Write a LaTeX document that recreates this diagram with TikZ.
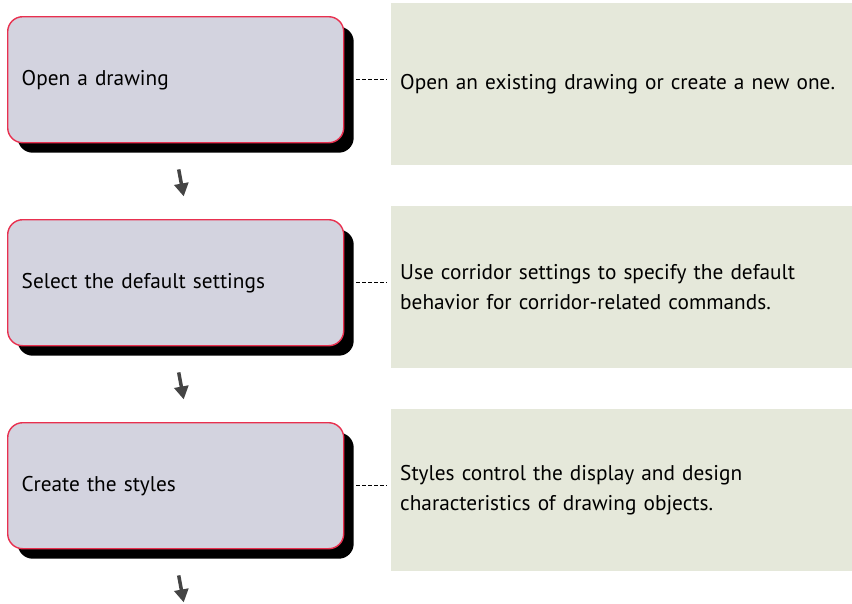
\documentclass[tikz,border=0pt]{standalone}
\usepackage{fontspec}
\setmainfont{PT Sans}
\usetikzlibrary{shadows,arrows.meta,calc}
\definecolor{boxfill}{HTML}{D3D3DF}
\definecolor{boxred}{HTML}{E8304F}
\definecolor{notefill}{HTML}{E5E8DA}
\definecolor{arrowgray}{HTML}{444444}
\tikzset{
  stepbox/.style={draw=boxred, fill=boxfill, rounded corners=15pt, line width=1.4pt,
    minimum width=336pt, minimum height=126pt, anchor=north west, inner xsep=14pt,
    text width=308pt, align=left, font=\fontsize{21.3}{30}\selectfont,
    drop shadow={shadow xshift=10pt, shadow yshift=-10pt, fill=black, opacity=1, draw=none}},
  notebox/.style={fill=notefill, draw=none, minimum width=461pt, minimum height=162pt,
    anchor=north west, inner xsep=9pt, text width=443pt, align=left,
    font=\fontsize{21.3}{30}\selectfont},
  conn/.style={draw=black, line width=1.3pt, dash pattern=on 4pt off 2pt},
  flowarrow/.style={draw=arrowgray, line width=3.5pt, -{Triangle[width=14pt,length=13pt]}}
}
\begin{document}
\begin{tikzpicture}[x=1pt,y=-1pt]
\useasboundingbox (0,0) rectangle (852,603);

\node[stepbox] (b1) at (7,16) {Open a drawing};
\node[stepbox] (b2) at (7,219) {Select the default settings};
\node[stepbox] (b3) at (7,422) {Create the styles};

\node[notebox] (g1) at (391,3) {Open an existing drawing or create a new one.};
\node[notebox] (g2) at (391,206) {Use corridor settings to specify the default\\behavior for corridor-related commands.};
\node[notebox] (g3) at (391,409) {Styles control the display and design\\characteristics of drawing objects.};

\foreach \i in {1,2,3}{
  \draw[conn] ($(b\i.east)+(12,0)$) -- ($(g\i.west |- b\i.east)+(-4,0)$);
  \coordinate (a\i s) at ($(b\i.south)+(3,26)$);
  \coordinate (a\i e) at ($(b\i.south)+(8,53)$);
  \draw[flowarrow] (a\i s) -- (a\i e);
}
\end{tikzpicture}
\end{document}
